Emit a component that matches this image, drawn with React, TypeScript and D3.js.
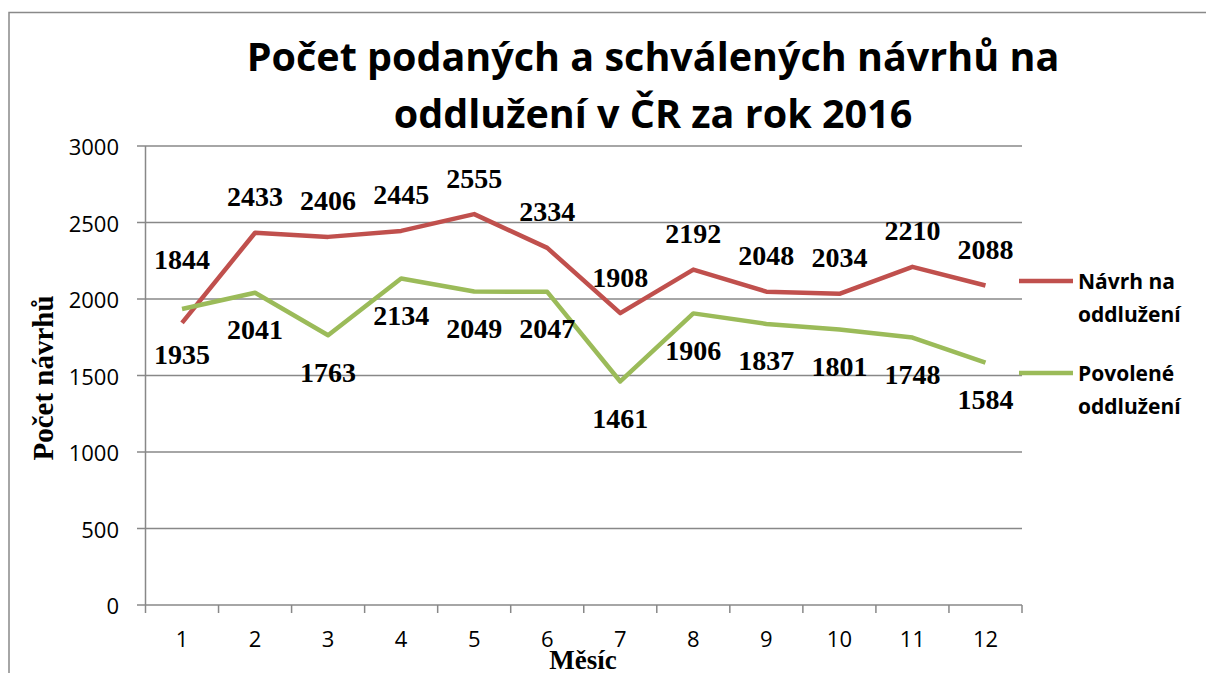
import React, { useEffect, useRef } from 'react';
import * as d3 from 'd3';

const months = ['1', '2', '3', '4', '5', '6', '7', '8', '9', '10', '11', '12'];
const navrhy = [1844, 2433, 2406, 2445, 2555, 2334, 1908, 2192, 2048, 2034, 2210, 2088];
const povolene = [1935, 2041, 1763, 2134, 2049, 2047, 1461, 1906, 1837, 1801, 1748, 1584];
const yTicks = [0, 500, 1000, 1500, 2000, 2500, 3000];
const titleLines = ['Počet podaných a schválených návrhů na', 'oddlužení v ČR za rok 2016'];

function App() {
    const ref = useRef<SVGSVGElement>(null);

    useEffect(() => {
        const svg = d3.select(ref.current);
        svg.selectAll('*').remove();

        const left = 145.5, right = 1022, top = 146, bottom = 605;
        const x = d3.scaleBand().domain(months).range([left, right]);
        const y = d3.scaleLinear().domain([0, 3000]).range([bottom, top]);
        const cx = (i: number) => (x(months[i]) as number) + x.bandwidth() / 2;

        // rámeček grafu
        svg.append('rect')
            .attr('x', 9).attr('y', 12.5).attr('width', 1300).attr('height', 800)
            .attr('fill', 'white').attr('stroke', '#898989').attr('stroke-width', 1.5);

        // titulek
        svg.selectAll('text.title')
            .data(titleLines)
            .enter()
            .append('text')
            .attr('x', 653)
            .attr('y', (d, i) => 71 + i * 57)
            .attr('text-anchor', 'middle')
            .style('font-family', 'Open Sans')
            .style('font-weight', 'bold')
            .style('font-size', '39.5px')
            .style('fill', '#000')
            .text(d => d);

        // mřížka
        svg.selectAll('line.grid')
            .data(yTicks)
            .enter()
            .append('line')
            .attr('x1', 137).attr('x2', right)
            .attr('y1', d => y(d)).attr('y2', d => y(d))
            .attr('stroke', '#888').attr('stroke-width', 1.5);

        svg.append('line')
            .attr('x1', left).attr('x2', left).attr('y1', top).attr('y2', bottom)
            .attr('stroke', '#888').attr('stroke-width', 1.5);

        const bounds = months.map(m => x(m) as number).concat([right]);
        svg.selectAll('line.xtick')
            .data(bounds)
            .enter()
            .append('line')
            .attr('x1', d => d).attr('x2', d => d)
            .attr('y1', bottom).attr('y2', bottom + 8)
            .attr('stroke', '#888').attr('stroke-width', 1.5);

        svg.selectAll('text.ylab')
            .data(yTicks)
            .enter()
            .append('text')
            .attr('x', 119).attr('y', d => y(d))
            .attr('text-anchor', 'end').attr('dominant-baseline', 'central')
            .style('font-family', 'Open Sans').style('font-size', '22px').style('fill', '#000')
            .text(d => d);

        svg.selectAll('text.xlab')
            .data(months)
            .enter()
            .append('text')
            .attr('x', (d, i) => cx(i)).attr('y', 647)
            .attr('text-anchor', 'middle')
            .style('font-family', 'Open Sans').style('font-size', '22px').style('fill', '#000')
            .text(d => d);

        // popisky os
        svg.append('text')
            .attr('transform', 'translate(53,378) rotate(-90)')
            .attr('text-anchor', 'middle')
            .style('font-family', 'Liberation Serif').style('font-weight', 'bold')
            .style('font-size', '29px')
            .text('Počet návrhů');

        svg.append('text')
            .attr('x', 583).attr('y', 669)
            .attr('text-anchor', 'middle')
            .style('font-family', 'Liberation Serif').style('font-weight', 'bold')
            .style('font-size', '27px')
            .text('Měsíc');

        const line = d3.line<number>().x((d, i) => cx(i)).y(d => y(d));
        const series = [
            { values: navrhy, color: '#C0504D', dy: -36, name: ['Návrh na', 'oddlužení'], ly: 281 },
            { values: povolene, color: '#9BBB59', dy: 37, name: ['Povolené', 'oddlužení'], ly: 373 },
        ];
        // ručně posunuté popisky
        const shift: Record<string, number> = { '0-0': -27, '1-0': 9 };

        series.forEach((s, si) => {
            svg.append('path')
                .datum(s.values)
                .attr('d', line)
                .attr('fill', 'none')
                .attr('stroke', s.color)
                .attr('stroke-width', 4.5)
                .attr('stroke-linejoin', 'round');

            svg.selectAll('text.lab' + si)
                .data(s.values)
                .enter()
                .append('text')
                .attr('x', (d, i) => cx(i))
                .attr('y', (d, i) => y(d) + s.dy + (shift[si + '-' + i] || 0))
                .attr('text-anchor', 'middle').attr('dominant-baseline', 'central')
                .style('font-family', 'Liberation Serif').style('font-weight', 'bold')
                .style('font-size', '28px').style('fill', '#000')
                .text(d => d);

            svg.append('line')
                .attr('x1', 1019).attr('x2', 1073).attr('y1', s.ly).attr('y2', s.ly)
                .attr('stroke', s.color).attr('stroke-width', 4.5);
            svg.selectAll('text.leg' + si)
                .data(s.name)
                .enter()
                .append('text')
                .attr('x', 1078).attr('y', (d, i) => s.ly + i * 33)
                .attr('dominant-baseline', 'central')
                .style('font-family', 'Open Sans').style('font-weight', 'bold')
                .style('font-size', '21px').style('fill', '#000')
                .text(d => d);
        });
    }, []);

    return (
        <svg ref={ref} width={1206} height={673} style={{ position: 'absolute', left: 0, top: 0 }}></svg>
    );
}

export default App;
